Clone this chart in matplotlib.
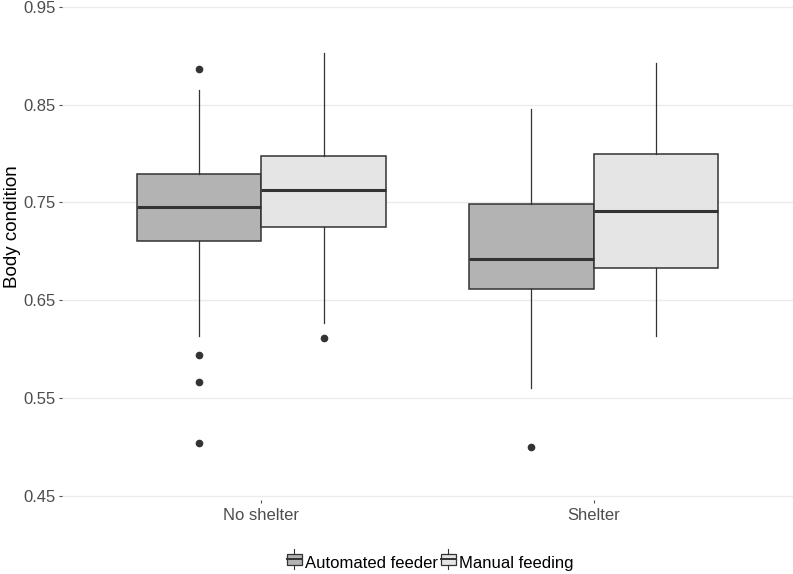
import numpy as np
import matplotlib.pyplot as plt
from matplotlib.legend_handler import HandlerBase
from matplotlib.patches import Rectangle
from matplotlib.lines import Line2D

plt.rcParams['font.family'] = ['Liberation Sans', 'DejaVu Sans']

# data (box stats per shelter group)
groups = ['No shelter', 'Shelter']
series = ['Automated feeder', 'Manual feeding']
fills = ['#b3b3b3', '#e5e5e5']

# [No shelter, Shelter]
auto_whislo = [0.6136, 0.5598]
auto_q1 = [0.7104, 0.6617]
auto_med = [0.7456, 0.6920]
auto_q3 = [0.7790, 0.7479]
auto_whishi = [0.8648, 0.8451]
auto_fliers = [[0.8863, 0.5939, 0.5660, 0.5040], [0.5001]]

man_whislo = [0.6269, 0.6133]
man_q1 = [0.7251, 0.6825]
man_med = [0.7622, 0.7408]
man_q3 = [0.7977, 0.7991]
man_whishi = [0.9023, 0.8928]
man_fliers = [[0.6110], []]

yticks = [0.45, 0.55, 0.65, 0.75, 0.85, 0.95]


def make_stats(lo, q1, med, q3, hi, fl):
    out = []
    for i in range(len(lo)):
        out.append(dict(whislo=lo[i], q1=q1[i], med=med[i], q3=q3[i],
                        whishi=hi[i], fliers=fl[i]))
    return out


stats = [make_stats(auto_whislo, auto_q1, auto_med, auto_q3, auto_whishi, auto_fliers),
         make_stats(man_whislo, man_q1, man_med, man_q3, man_whishi, man_fliers)]

fig = plt.figure(figsize=(7.93, 5.74), dpi=100)
ax = fig.add_axes([62 / 793, 74 / 574, 731 / 793, 495 / 574])

edge = '#333333'
width = 0.375
centers = np.arange(1, len(groups) + 1)
for k in range(2):
    pos = centers + (k - 0.5) * width
    ax.bxp(stats[k], positions=pos, widths=width, patch_artist=True,
           showcaps=False,
           boxprops=dict(facecolor=fills[k], edgecolor=edge, linewidth=1.1),
           medianprops=dict(color=edge, linewidth=2.2),
           whiskerprops=dict(color=edge, linewidth=0.9),
           flierprops=dict(marker='o', markerfacecolor=edge, markeredgecolor=edge,
                           markersize=4.5, linestyle='none'),
           manage_ticks=False, zorder=3)

ax.set_xlim(0.4, 2.6)
ax.set_ylim(0.45 - 4.3 / 978, 0.95 + 1.7 / 978)
ax.set_xticks(centers)
ax.set_xticklabels(groups)
ax.set_yticks(yticks)
ax.set_yticklabels(['%.2f' % v for v in yticks])
ax.grid(axis='y', color='#ebebeb', linewidth=1.0, zorder=0)
ax.set_axisbelow(True)
for s in ax.spines.values():
    s.set_visible(False)
ax.tick_params(axis='both', colors='#4d4d4d', labelsize=12, length=2.5, width=0.8, pad=2)
ax.tick_params(axis='x', pad=3)
ax.set_ylabel('Body condition', fontsize=13.5, color='black')
ax.yaxis.set_label_coords(-0.0555, 0.5515)


class BoxKey(HandlerBase):
    def create_artists(self, legend, orig, xd, yd, w, h, fontsize, trans):
        fc = orig.get_facecolor()
        x0 = xd
        bw = w
        r = Rectangle((x0, yd + h * 0.1), bw, h * 0.8, facecolor=fc,
                      edgecolor=edge, linewidth=0.9, transform=trans)
        m = Line2D([x0, x0 + bw], [yd + h * 0.5] * 2, color=edge, linewidth=1.4, transform=trans)
        t = Line2D([x0 + bw / 2] * 2, [yd + h * 0.9, yd + h * 1.2], color=edge, linewidth=0.8, transform=trans)
        b = Line2D([x0 + bw / 2] * 2, [yd - h * 0.2, yd + h * 0.1], color=edge, linewidth=0.8, transform=trans)
        return [r, m, t, b]


handles = [Rectangle((0, 0), 1, 1, facecolor=f) for f in fills]
fig.legend(handles, series, handler_map={Rectangle: BoxKey()}, loc='center',
           bbox_to_anchor=(430 / 793, 1 - 563 / 574), ncol=2, frameon=False,
           fontsize=12, handlelength=0.9, handleheight=0.95, handletextpad=0.2,
           columnspacing=0.15, borderaxespad=0)

fig.savefig('out.png', dpi=100)
